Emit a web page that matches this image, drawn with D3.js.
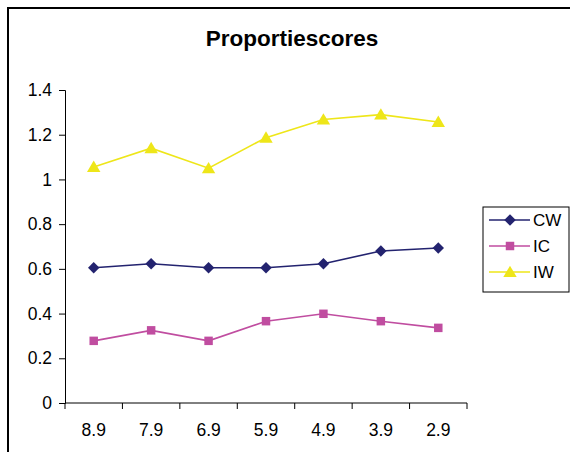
<!DOCTYPE html>
<html><head><meta charset="utf-8">
<script src="https://cdn.jsdelivr.net/npm/d3@7"></script>
<style>body{margin:0;background:#fff;}svg{display:block;font-family:"Liberation Sans",Arial,sans-serif;}</style>
</head><body>
<script>
const categories = ["8.9","7.9","6.9","5.9","4.9","3.9","2.9"];
const seriesNames = ["CW","IC","IW"];
const cwValues = [0.605, 0.623, 0.605, 0.605, 0.623, 0.68, 0.693];
const icValues = [0.278, 0.325, 0.278, 0.366, 0.399, 0.366, 0.336];
const iwValues = [1.056, 1.14, 1.05, 1.187, 1.268, 1.29, 1.257];
const yTicks = [0, 0.2, 0.4, 0.6, 0.8, 1, 1.2, 1.4];

const diamond = {draw(ctx, size){ const r = Math.sqrt(size)/1.6; ctx.moveTo(0,-r); ctx.lineTo(r,0); ctx.lineTo(0,r); ctx.lineTo(-r,0); ctx.closePath(); }};
const tri = {draw(ctx, size){ const r = Math.sqrt(size)/1.3; ctx.moveTo(0,-r*0.95); ctx.lineTo(r,r*0.75); ctx.lineTo(-r,r*0.75); ctx.closePath(); }};

const series = [
  {name: seriesNames[0], values: cwValues, color: "#23236f", shape: diamond, size: 84},
  {name: seriesNames[1], values: icValues, color: "#c04da0", shape: d3.symbolSquare, size: 72},
  {name: seriesNames[2], values: iwValues, color: "#eee619", shape: tri, size: 76}
];

const W = 570, H = 452;
const svg = d3.select("body").append("svg").attr("width", W).attr("height", H);
svg.append("rect").attr("width", W).attr("height", H).attr("fill", "#fff");
svg.append("path").attr("d", `M8,${H} V8 H${W}`).attr("fill","none").attr("stroke","#000").attr("stroke-width",2);

const x0 = 65, x1 = 467, y0 = 403, y1 = 90;
const x = d3.scaleBand().domain(categories).range([x0, x1]);
const y = d3.scaleLinear().domain([0, 1.4]).range([y0, y1]);

svg.append("text").attr("x", 292).attr("y", 46).attr("text-anchor","middle")
  .attr("font-weight","bold").attr("font-size", 22.5).text("Proportiescores");

const yAxis = svg.append("g").attr("transform", `translate(${x0},0)`)
  .call(d3.axisLeft(y).tickValues(yTicks).tickSize(6).tickPadding(7).tickFormat(d3.format("~g")));
yAxis.selectAll("text").attr("font-size", 17.5).attr("fill","#000").attr("font-family","Liberation Sans, Arial, sans-serif");
yAxis.selectAll("line,path").attr("stroke","#000");

const xAxis = svg.append("g").attr("transform", `translate(0,${y0})`)
  .call(d3.axisBottom(x).tickSize(0).tickPadding(21));
xAxis.select(".domain").attr("d", `M${x0},0H${x1}`).attr("stroke","#000");
xAxis.selectAll("text").attr("font-size", 17.5).attr("fill","#000").attr("font-family","Liberation Sans, Arial, sans-serif");
const bounds = categories.map(c => x(c)).concat([x1]);
xAxis.selectAll(".bt").data(bounds).enter().append("line")
  .attr("x1", d=>d).attr("x2", d=>d).attr("y1", 0).attr("y2", 6).attr("stroke","#000");

const cx = c => x(c) + x.bandwidth()/2;
const line = d3.line().x((d,i)=>cx(categories[i])).y(d=>y(d));
series.forEach(s => {
  svg.append("path").datum(s.values).attr("d", line).attr("fill","none")
    .attr("stroke", s.color).attr("stroke-width", 1.6);
  svg.selectAll(null).data(s.values).enter().append("path")
    .attr("d", d3.symbol().type(s.shape).size(s.size))
    .attr("transform", (d,i)=>`translate(${cx(categories[i])},${y(d)})`)
    .attr("fill", s.color);
});

const lg = svg.append("g");
lg.append("rect").attr("x", 483).attr("y", 207).attr("width", 86).attr("height", 85)
  .attr("fill","#fff").attr("stroke","#000").attr("stroke-width",1);
series.forEach((s, i) => {
  const yy = 220 + i*26;
  lg.append("line").attr("x1", 489).attr("x2", 530).attr("y1", yy).attr("y2", yy)
    .attr("stroke", s.color).attr("stroke-width", 1.6);
  lg.append("path").attr("d", d3.symbol().type(s.shape).size(s.size))
    .attr("transform", `translate(510,${yy})`).attr("fill", s.color);
  lg.append("text").attr("x", 533).attr("y", yy + 6).attr("font-size", 17).text(s.name);
});
</script>
</body></html>
